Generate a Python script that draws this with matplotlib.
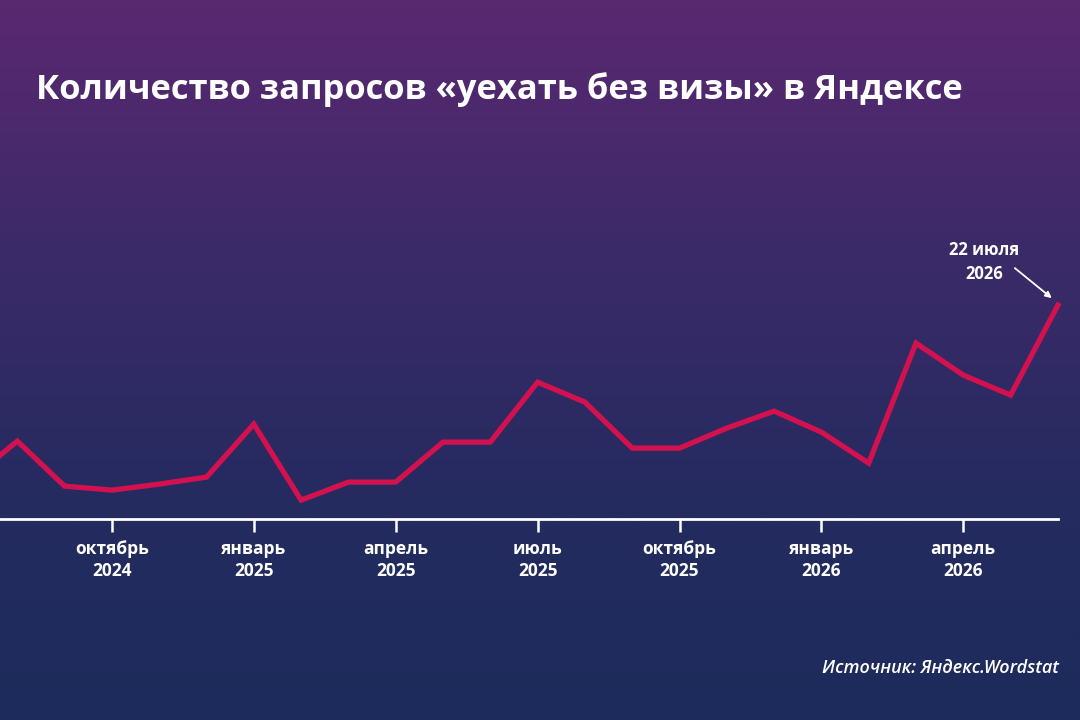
import numpy as np
import matplotlib.pyplot as plt
from matplotlib.colors import LinearSegmentedColormap

# monthly query counts (relative units), July 2024 .. June 2026
months = ["июль 2024", "август 2024", "сентябрь 2024", "октябрь 2024", "ноябрь 2024", "декабрь 2024",
          "январь 2025", "февраль 2025", "март 2025", "апрель 2025", "май 2025", "июнь 2025",
          "июль 2025", "август 2025", "сентябрь 2025", "октябрь 2025", "ноябрь 2025", "декабрь 2025",
          "январь 2026", "февраль 2026", "март 2026", "апрель 2026", "май 2026", "июнь 2026"]
values = [39, 78, 33, 29, 35, 42,
          95, 19, 37, 37, 77, 77,
          137, 117, 71, 71, 91, 108,
          87, 56, 176, 144, 124, 214]
tick_pos = [3, 6, 9, 12, 15, 18, 21]
tick_labels = ["октябрь\n2024", "январь\n2025", "апрель\n2025", "июль\n2025",
               "октябрь\n2025", "январь\n2026", "апрель\n2026"]

plt.rcParams['font.family'] = ['Open Sans', 'DejaVu Sans']

fig = plt.figure(figsize=(10.8, 7.2), dpi=100)

# background gradient
bg = fig.add_axes([0, 0, 1, 1])
cmap = LinearSegmentedColormap.from_list("bg", ["#5a2870", "#3d2a69", "#262b60", "#1c2b5b"])
grad = np.linspace(0, 1, 256).reshape(-1, 1)
bg.imshow(grad, aspect='auto', cmap=cmap, extent=[0, 1, 0, 1], origin='upper')
bg.axis('off')

x = np.arange(len(values))
ax = fig.add_axes([0, 0.279, 1, 0.5125])
ax.patch.set_alpha(0)
ax.plot(x, values, color="#d3114f", lw=3.8, solid_joinstyle='miter', zorder=3)
ax.set_xlim(30 / 47.3, 1110 / 47.3)
ax.set_ylim(0, 369)

for s in ['top', 'right', 'left']:
    ax.spines[s].set_visible(False)
ax.spines['bottom'].set_color('white')
ax.spines['bottom'].set_linewidth(2)
ax.spines['bottom'].set_bounds(30 / 47.3, len(values) - 1)
ax.set_yticks([])
ax.set_xticks(tick_pos)
ax.set_xticklabels(tick_labels, color='white', fontsize=12.5, fontweight='bold', linespacing=1.3)
ax.tick_params(axis='x', colors='white', length=9, width=1.8, pad=6)

last = len(values) - 1
ax.text(21.44, 257, "22 июля\n2026", ha='center', va='center', color='white',
        fontsize=12, fontweight='bold', linespacing=1.4)
ax.annotate("", xy=(last - 0.13, values[-1] + 7), xytext=(22.09, 251),
            arrowprops=dict(arrowstyle='-|>', color='white', lw=1.3, shrinkA=0, shrinkB=0,
                            mutation_scale=9))

fig.text(0.033, 0.875, "Количество запросов «уехать без визы» в Яндексе", color='white',
         fontsize=24.8, fontweight='bold', ha='left', va='center')
fig.text(0.98, 0.072, "Источник: Яндекс.Wordstat", color='white', fontsize=13,
         fontstyle='italic', fontweight='semibold', ha='right', va='center')

fig.savefig("out.png", dpi=100)
